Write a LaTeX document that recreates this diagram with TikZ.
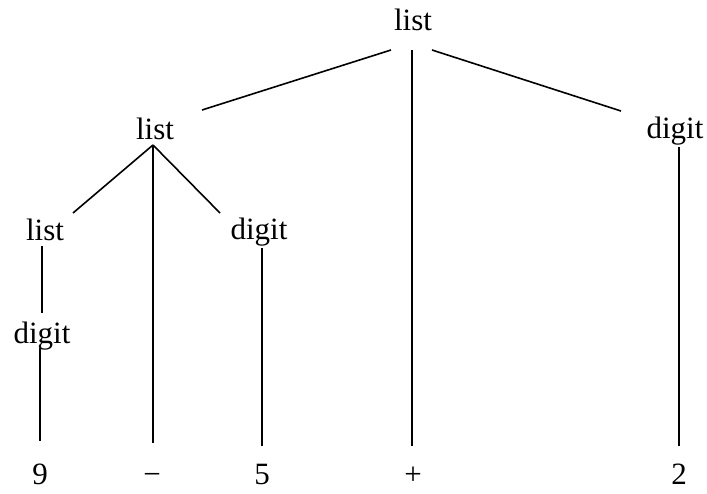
\documentclass[tikz,border=0pt]{standalone}
\usepackage{fontspec}
\setmainfont{Liberation Serif}
\begin{document}
\begin{tikzpicture}[x=1pt,y=-1pt,
  lbl/.style={anchor=base,inner sep=0pt,font=\fontsize{31}{37}\selectfont},
  edge/.style={line width=1.6pt}]
\useasboundingbox (0,0) rectangle (707,493);
% nodes (base positions, y down)
\node[lbl] (root) at (413,30) {list};
\node[lbl] (L1) at (155,139) {list};
\node[lbl] (R) at (675,138) {digit};
\node[lbl] (L2) at (45,240) {list};
\node[lbl] (D2) at (259,239) {digit};
\node[lbl] (D3) at (42,343) {digit};
\node[lbl] (n9) at (40,484) {9};
\node[lbl] (mi) at (152,484) {−};
\node[lbl] (n5) at (262,484) {5};
\node[lbl] (pl) at (413,484) {+};
\node[lbl] (n2) at (679,484) {2};
% edges
\draw[edge] ([shift={(-22,20)}]root.base) -- ([shift={(47,-29)}]L1.base);
\draw[edge] ([shift={(-1,20)}]root.base) -- ([shift={(-1,-38)}]pl.base);
\draw[edge] ([shift={(19,20)}]root.base) -- ([shift={(-54,-27)}]R.base);
\draw[edge] ([shift={(-2,6)}]L1.base) -- ([shift={(28,-27)}]L2.base);
\draw[edge] ([shift={(-2,6)}]L1.base) -- ([shift={(1,-41)}]mi.base);
\draw[edge] ([shift={(-2,6)}]L1.base) -- ([shift={(-39,-26)}]D2.base);
\draw[edge] ([shift={(-3,6)}]L2.base) -- ([shift={(0,-30)}]D3.base);
\draw[edge] ([shift={(-2,5)}]D3.base) -- ([shift={(0,-43)}]n9.base);
\draw[edge] ([shift={(3,9)}]D2.base) -- ([shift={(0,-38)}]n5.base);
\draw[edge] ([shift={(4,9)}]R.base) -- ([shift={(0,-38)}]n2.base);
\end{tikzpicture}
\end{document}
